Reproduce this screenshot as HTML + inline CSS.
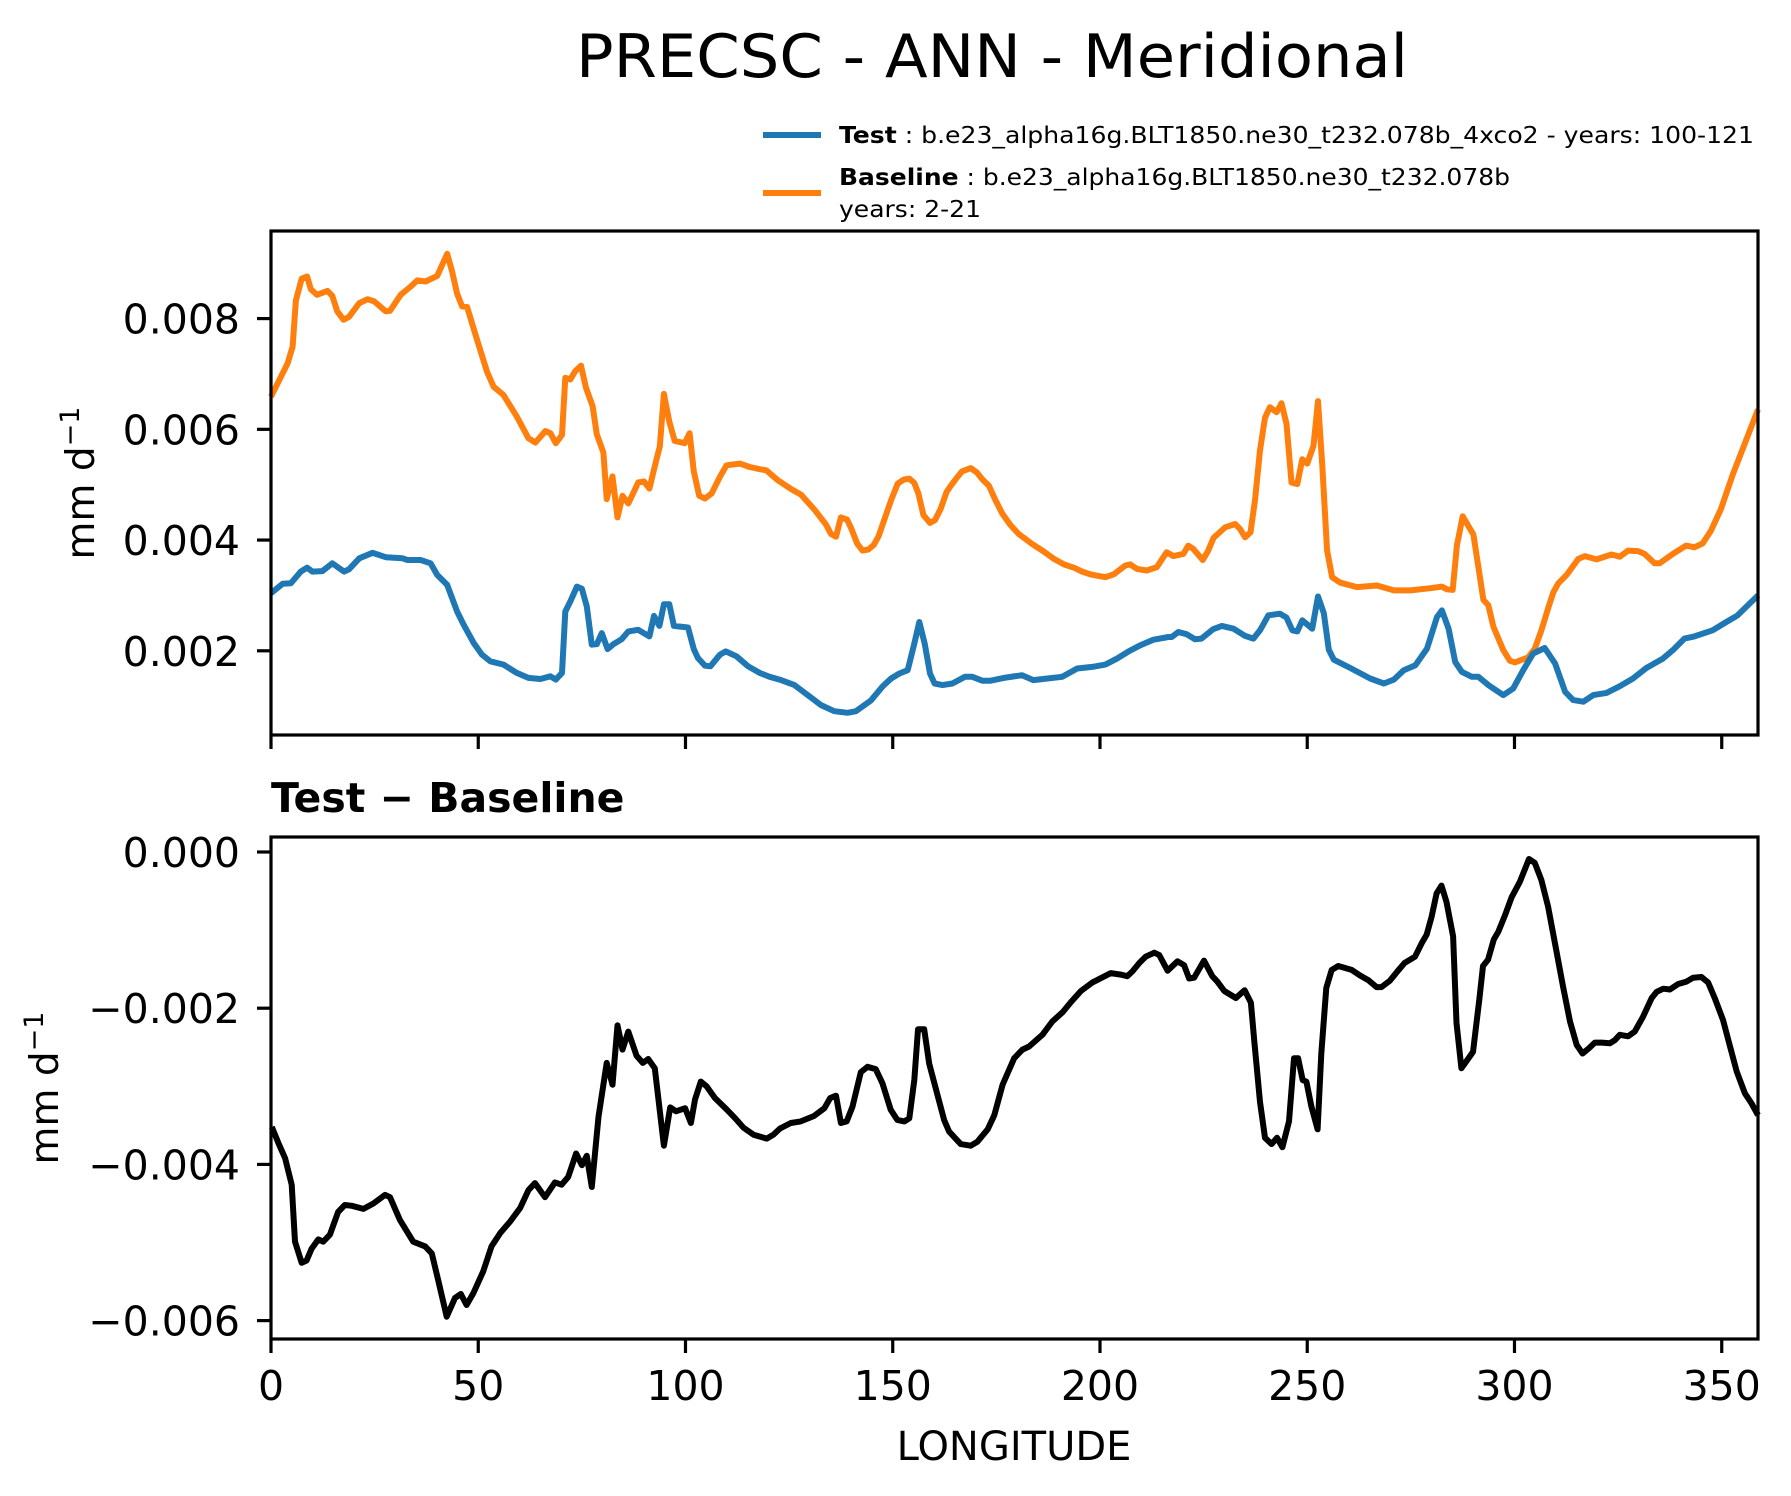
<!DOCTYPE html>
<html><head><meta charset="utf-8"><style>
html,body{margin:0;padding:0;background:#fff;}
svg{display:block;}
text{font-family:"DejaVu Sans","Liberation Sans",sans-serif;fill:#000;}
</style></head><body>
<svg id="chart" width="1791" height="1496" viewBox="0 0 1791 1496" xmlns="http://www.w3.org/2000/svg">
<rect width="1791" height="1496" fill="#fff"/>
<text x="992" y="77" font-size="60" text-anchor="middle" textLength="832" lengthAdjust="spacingAndGlyphs">PRECSC - ANN - Meridional</text>
<g>
<line x1="763" y1="135" x2="821" y2="135" stroke="#1f77b4" stroke-width="6"/>
<text x="839" y="143" font-size="23" textLength="915" lengthAdjust="spacingAndGlyphs"><tspan font-weight="bold">Test</tspan> : b.e23_alpha16g.BLT1850.ne30_t232.078b_4xco2 - years: 100-121</text>
<line x1="763" y1="193" x2="821" y2="193" stroke="#ff7f0e" stroke-width="6"/>
<text x="839" y="185" font-size="23" textLength="671" lengthAdjust="spacingAndGlyphs"><tspan font-weight="bold">Baseline</tspan> : b.e23_alpha16g.BLT1850.ne30_t232.078b</text>
<text x="839" y="217" font-size="23" textLength="142" lengthAdjust="spacingAndGlyphs">years: 2-21</text>
</g>
<g id="topPanel"></g>
<g id="botPanel"></g>
<text x="271" y="812" font-size="41" font-weight="bold">Test − Baseline</text>
<text x="1014" y="1460" font-size="40" text-anchor="middle">LONGITUDE</text>
<text transform="translate(94,483) rotate(-90)" font-size="39" text-anchor="middle">mm d<tspan baseline-shift="super" font-size="27">−1</tspan></text>
<text transform="translate(58,1088) rotate(-90)" font-size="39" text-anchor="middle">mm d<tspan baseline-shift="super" font-size="27">−1</tspan></text>
</svg>
<script>
// Data (values in units of 1e-3 mm/d)
const xTicks = [0, 50, 100, 150, 200, 250, 300, 350];
const xTickLabels = ["0", "50", "100", "150", "200", "250", "300", "350"];
const topYTicks = [2, 4, 6, 8];
const topYTickLabels = ["0.002", "0.004", "0.006", "0.008"];
const botYTicks = [0, -2, -4, -6];
const botYTickLabels = ["0.000", "−0.002", "−0.004", "−0.006"];

const baseLon = [0,4,5.2,6,7.4,8.7,9.6,11.1,13.6,14.8,16,17.5,18.8,21.3,23.3,24.9,27.7,28.7,31.3,33.7,35.3,37.3,40.1,42.5,43.7,44.9,46.1,47.3,49.7,52.1,53.7,56.1,59.3,62.1,63.8,66.2,67.4,68.7,70.2,71,72.2,73.4,74.8,76,77.6,78.6,80.2,81,82.4,83.6,84.8,86.2,88.6,90,91.3,92.9,93.8,94.8,96.1,97.4,99.8,101,102,103.3,104.7,106.3,108.3,109.9,113.1,115.5,117.9,119.5,122.3,125.5,127.9,131.1,133.9,135.1,136.3,137.5,139,140.1,141.4,142.7,144.1,145.4,146.6,148.2,149.6,151.2,152.6,154,155.2,156.2,157.4,159,160.2,161.6,163,164.2,165.4,166.7,168.8,170.3,171.6,173.2,174.8,176.4,178.4,180.4,183.6,186.5,188.9,191.3,193.7,195.7,197.7,201.3,203.3,206.1,207.3,208.9,211.3,213.7,216.1,217.7,220.1,221.3,222.5,224.8,226.1,227.4,230.2,232.6,233.8,235,236.3,237.4,238.6,239.8,241,242.6,243.8,245,246.2,247.6,248.8,250,251.5,252.6,253.6,254.8,256,258,262,266.8,270.9,274.9,279.7,282.5,283.7,285.1,286.1,287.5,290.1,291.3,292.5,293.7,294.9,297.3,298.9,300.1,303.3,304.9,306.5,308.2,309.4,310.6,312.6,315.4,317,319.8,323.4,325.4,327.4,329.8,331.4,333.8,335,338.2,341.4,343.4,345.4,347.4,349.8,352.7,355.5,358.75];
const baseVal = [6.59,7.19,7.49,8.33,8.72,8.76,8.53,8.43,8.50,8.41,8.13,7.98,8.03,8.28,8.35,8.31,8.13,8.14,8.43,8.58,8.69,8.67,8.77,9.17,8.85,8.45,8.22,8.21,7.62,7.04,6.77,6.62,6.23,5.84,5.76,5.97,5.93,5.75,5.90,6.93,6.90,7.05,7.15,6.75,6.42,5.91,5.58,4.74,5.15,4.41,4.80,4.66,5.04,5.06,4.93,5.43,5.69,6.64,6.14,5.79,5.75,5.93,5.24,4.80,4.75,4.84,5.14,5.35,5.38,5.32,5.28,5.26,5.08,4.92,4.82,4.55,4.28,4.11,4.06,4.41,4.37,4.19,3.94,3.81,3.83,3.91,4.07,4.42,4.72,5.02,5.09,5.11,5.03,4.84,4.45,4.31,4.36,4.57,4.87,5.00,5.12,5.24,5.30,5.22,5.10,4.98,4.72,4.48,4.27,4.11,3.93,3.79,3.66,3.56,3.50,3.43,3.38,3.33,3.38,3.54,3.56,3.48,3.45,3.51,3.78,3.71,3.75,3.90,3.84,3.64,3.81,4.04,4.23,4.29,4.20,4.05,4.14,4.72,5.62,6.21,6.40,6.31,6.47,6.10,5.04,5.01,5.46,5.38,5.70,6.51,5.37,3.81,3.33,3.23,3.15,3.18,3.09,3.09,3.13,3.16,3.11,3.10,3.90,4.43,4.10,3.51,2.92,2.82,2.44,2.01,1.82,1.79,1.88,2.04,2.37,2.79,3.06,3.22,3.37,3.66,3.71,3.65,3.74,3.70,3.81,3.80,3.75,3.58,3.58,3.75,3.90,3.87,3.94,4.17,4.56,5.19,5.73,6.36];

const testLon = [0,2.8,4.8,7.2,8.7,10,12.4,14.8,17.6,18.8,21.3,24.5,27.7,31.7,32.9,36.1,38.5,40.1,42.5,44.9,46.5,48.9,50.9,52.9,56.1,59.3,62.1,65,67.4,68.7,70.2,71,72.2,73.8,75,76.2,77.4,78.6,79.8,81.2,82.6,84.6,86.2,88.6,91.3,92.4,93.7,94.8,96.1,97.2,100.6,102,103,104.7,106,108.3,109.7,112.3,115.1,117.9,120.3,122.7,126.3,129.5,132.7,135.9,139.1,141.1,144.7,147.6,149.6,151.6,153.6,155.2,156.4,157.7,159,160.1,162,164.4,167.4,169.2,171.6,173.6,176.8,181.2,183.9,187.3,190.9,194.5,198.1,201.3,204.1,206.9,209.7,212.9,216.5,217.3,218.9,220.9,222.9,224.5,227.3,229.4,232.2,235,237,238.6,240.6,243.4,245,246.4,247.6,248.8,251.2,252.6,254,255.2,256.4,260.4,265.2,268.5,270.9,273.3,276.1,278.9,281.3,282.5,284.1,285.7,287.3,289.7,291.3,293.7,297.3,299.7,302.1,304.5,307.3,309.8,312.2,314.2,316.6,319,322.2,325.4,328.6,331.8,335.8,338.2,341,343.4,347.8,351.1,353.8,358.75];
const testVal = [3.04,3.21,3.22,3.43,3.50,3.43,3.44,3.58,3.43,3.47,3.67,3.77,3.69,3.67,3.64,3.64,3.58,3.37,3.19,2.71,2.47,2.14,1.93,1.81,1.75,1.60,1.51,1.49,1.54,1.48,1.60,2.71,2.89,3.16,3.12,2.80,2.11,2.12,2.32,2.03,2.12,2.21,2.35,2.38,2.26,2.63,2.45,2.84,2.84,2.45,2.42,2.03,1.87,1.73,1.72,1.93,1.99,1.90,1.72,1.60,1.53,1.48,1.38,1.20,1.02,0.91,0.88,0.91,1.10,1.36,1.50,1.59,1.65,2.13,2.52,2.13,1.59,1.41,1.38,1.41,1.53,1.53,1.46,1.46,1.51,1.56,1.47,1.50,1.53,1.68,1.71,1.75,1.86,1.99,2.10,2.20,2.25,2.25,2.34,2.30,2.21,2.22,2.39,2.45,2.40,2.27,2.22,2.37,2.64,2.67,2.60,2.37,2.35,2.55,2.40,2.98,2.68,2.02,1.84,1.69,1.50,1.41,1.48,1.65,1.74,2.04,2.61,2.73,2.40,1.80,1.62,1.53,1.53,1.38,1.20,1.32,1.65,1.95,2.05,1.77,1.26,1.11,1.08,1.20,1.24,1.36,1.50,1.69,1.86,2.01,2.22,2.26,2.37,2.52,2.64,3.00];

const diffLon = [0.2,1.8,3.4,5,5.8,7.4,8.6,9.8,11.4,12.6,14.2,16.2,17.8,19.5,22.3,24.7,27.5,28.7,31.1,34.3,37.2,38.8,40.4,42.4,44.4,45.8,47.2,48.8,51.2,53.2,55.3,57.7,60.1,62.1,63.7,66.1,68.5,70.1,71.7,73.6,75,76.2,77.4,79,81,82.4,83.6,84.8,86.2,88.2,89.7,91,92.6,94.8,96.3,97.7,99.9,101.3,102.3,103.7,105.1,107.1,110,112,114,116.4,119.6,121.2,122.8,125.4,127.8,131,133.5,134.9,136.3,137.5,138.9,140.3,142.3,143.9,145.9,147.5,149.5,151.1,152.8,154,155.2,156.1,157.6,158.8,160.4,162.4,163.6,166.4,168.8,170.4,172.9,174.5,176.5,179.3,181.3,182.9,186.1,188.5,191,193,195.4,198.2,202.6,205,206.6,207.8,209.5,211,213.1,214.3,216.3,218.7,220.3,221.5,222.7,225.1,227.1,228.3,230,232.8,234.9,236.4,237.2,238.6,239.8,241.4,242.7,244,245.6,246.8,247.8,248.9,249.8,251,252.5,253.4,254.6,255.9,257.5,260.7,262.7,264.7,266.7,267.9,269.9,271.9,273.5,276,277.6,278.8,280,281.2,282.4,283.6,285.2,286,287.2,288.4,290,291.5,292.4,293.6,295,296.1,297.7,299.3,301.3,303.5,304.9,306.5,308.1,310.1,311.7,313.4,315,316.4,317.8,319.4,321,323,324.2,325.4,327.4,329,331,333.1,334.3,335.9,337.5,339.5,341.5,343.1,345.1,346.7,348.3,350.3,351.9,353.6,355.6,357.2,358.75];
const diffVal = [-3.52,-3.73,-3.92,-4.26,-4.99,-5.26,-5.23,-5.08,-4.96,-4.99,-4.90,-4.61,-4.52,-4.53,-4.57,-4.50,-4.39,-4.42,-4.71,-4.99,-5.05,-5.14,-5.50,-5.95,-5.71,-5.66,-5.80,-5.65,-5.37,-5.05,-4.88,-4.73,-4.56,-4.33,-4.24,-4.42,-4.23,-4.26,-4.16,-3.86,-4.01,-3.89,-4.29,-3.39,-2.70,-2.98,-2.22,-2.53,-2.30,-2.61,-2.70,-2.65,-2.77,-3.76,-3.27,-3.32,-3.28,-3.47,-3.17,-2.94,-3.00,-3.15,-3.30,-3.41,-3.53,-3.62,-3.67,-3.62,-3.54,-3.47,-3.45,-3.38,-3.28,-3.15,-3.12,-3.47,-3.45,-3.26,-2.82,-2.75,-2.78,-2.96,-3.30,-3.43,-3.45,-3.41,-2.92,-2.27,-2.27,-2.71,-3.03,-3.43,-3.58,-3.74,-3.76,-3.71,-3.55,-3.37,-2.98,-2.64,-2.53,-2.49,-2.34,-2.17,-2.05,-1.92,-1.78,-1.67,-1.55,-1.57,-1.59,-1.53,-1.42,-1.34,-1.29,-1.32,-1.52,-1.40,-1.45,-1.62,-1.61,-1.39,-1.59,-1.66,-1.78,-1.87,-1.77,-1.93,-2.41,-3.20,-3.66,-3.74,-3.66,-3.78,-3.45,-2.64,-2.64,-2.92,-2.94,-3.26,-3.55,-2.58,-1.74,-1.51,-1.46,-1.51,-1.58,-1.64,-1.73,-1.73,-1.65,-1.52,-1.42,-1.34,-1.17,-1.06,-0.83,-0.53,-0.43,-0.64,-1.08,-2.19,-2.77,-2.68,-2.56,-1.89,-1.46,-1.38,-1.12,-1.02,-0.81,-0.58,-0.38,-0.09,-0.14,-0.36,-0.70,-1.26,-1.72,-2.17,-2.47,-2.58,-2.52,-2.44,-2.44,-2.45,-2.41,-2.34,-2.36,-2.30,-2.11,-1.87,-1.79,-1.75,-1.76,-1.69,-1.66,-1.61,-1.60,-1.67,-1.87,-2.15,-2.47,-2.81,-3.09,-3.22,-3.37];

const NS = "http://www.w3.org/2000/svg";
const X0 = 271, X1 = 1758, XMAX = 358.75;
function xScale(lon){ return X0 + lon / XMAX * (X1 - X0); }
function yTop(v){ return 650.8 - (v - 2) * 55.37; }
function yBot(v){ return 852 - v * 78.1; }
function mk(tag, attrs, parent){
  const el = document.createElementNS(NS, tag);
  for (const k in attrs) el.setAttribute(k, attrs[k]);
  parent.appendChild(el);
  return el;
}
function linePath(lons, vals, ys){
  return lons.map((l, i) => (i ? "L" : "M") + xScale(l).toFixed(1) + "," + ys(vals[i]).toFixed(1)).join(" ");
}

const topG = document.getElementById("topPanel");
const botG = document.getElementById("botPanel");
const panels = [
  {g: topG, y0: 231, y1: 735, ys: yTop, ticks: topYTicks, labels: topYTickLabels, xlabels: false, nm: "top"},
  {g: botG, y0: 837, y1: 1339, ys: yBot, ticks: botYTicks, labels: botYTickLabels, xlabels: true, nm: "bottom"}
];

let p;
p = mk("path", {d: linePath(baseLon, baseVal, yTop), fill: "none", stroke: "#ff7f0e", "stroke-width": 6, "stroke-linejoin": "round"}, topG);


p = mk("path", {d: linePath(testLon, testVal, yTop), fill: "none", stroke: "#1f77b4", "stroke-width": 6, "stroke-linejoin": "round"}, topG);


p = mk("path", {d: linePath(diffLon, diffVal, yBot), fill: "none", stroke: "#000", "stroke-width": 6, "stroke-linejoin": "round"}, botG);



panels.forEach(P => {
  const frame = mk("rect", {x: X0, y: P.y0, width: X1 - X0, height: P.y1 - P.y0, fill: "none", stroke: "#000", "stroke-width": 3.2}, P.g);
  
  
  xTicks.forEach((t, i) => {
    const x = xScale(t);
    const tk = mk("line", {x1: x, y1: P.y1, x2: x, y2: P.y1 + 14, stroke: "#000", "stroke-width": 3.2}, P.g);
    
    
    if (P.xlabels) {
      const tx = mk("text", {x: x, y: 1400, "font-size": 41, "text-anchor": "middle"}, P.g);
      tx.textContent = xTickLabels[i];
      
      
    }
  });
  P.ticks.forEach((t, i) => {
    const y = P.ys(t);
    const tk = mk("line", {x1: X0 - 14, y1: y, x2: X0, y2: y, stroke: "#000", "stroke-width": 3.2}, P.g);
    
    
    const tx = mk("text", {x: 240, y: y + 15, "font-size": 41, "text-anchor": "end"}, P.g);
    tx.textContent = P.labels[i];
    
    
  });
});
</script>
</body></html>
